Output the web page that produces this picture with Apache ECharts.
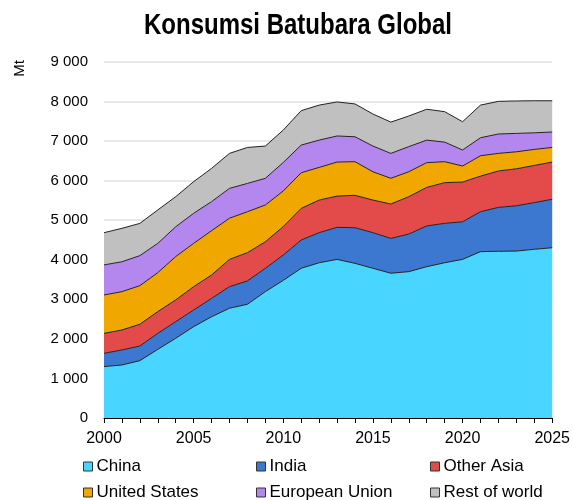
<!DOCTYPE html>
<html>
<head>
<meta charset="utf-8">
<script src="https://cdn.jsdelivr.net/npm/echarts@6/dist/echarts.min.js"></script>
<style>
  html, body { margin: 0; padding: 0; background: #fff; }
  #chart { width: 573px; height: 500px; }
</style>
</head>
<body>
<div id="chart"></div>
<script>
// data (Mt)
const years = ['2000','2001','2002','2003','2004','2005','2006','2007','2008','2009','2010','2011','2012',
  '2013','2014','2015','2016','2017','2018','2019','2020','2021','2022','2023','2024','2025'];
const china = [1300,1340,1450,1735,2015,2310,2560,2775,2875,3195,3480,3785,3925,4010,3910,3785,3660,3700,3825,3925,4010,4205,4215,4220,4265,4305];
const india = [335,380,370,405,420,420,465,545,590,590,640,715,760,810,900,900,880,950,1030,995,950,1010,1110,1145,1180,1225];
const otherAsia = [505,505,550,550,550,590,590,690,715,670,720,800,825,790,820,825,870,945,975,1030,1005,900,920,935,940,940];
const unitedStates = [970,970,975,985,1095,1095,1120,1040,1035,930,900,900,825,860,850,715,650,630,625,530,405,515,445,430,405,370];
const europeanUnion = [760,755,760,740,755,760,735,755,715,675,720,700,690,660,630,650,630,635,570,495,405,455,490,465,420,390];
const restOfWorld = [815,845,815,845,760,800,840,885,910,815,820,870,885,860,830,810,790,775,780,770,715,825,825,820,810,790];

const seriesNames = ['China', 'India', 'Other Asia', 'United States', 'European Union', 'Rest of world'];
const seriesData = [china, india, otherAsia, unitedStates, europeanUnion, restOfWorld];
const colors = ['#48D5FF', '#3C78CF', '#E34A4A', '#F0A800', '#B487EE', '#C0C0C0'];

const font = 'Liberation Sans, Arial, sans-serif';

// legend laid out as 3 columns x 2 rows
const legendPos = [[83, 458], [256, 458], [430, 458], [83, 484], [256, 484], [430, 484]];

const chart = echarts.init(document.getElementById('chart'));

chart.setOption({
  animation: false,
  color: colors,
  graphic: [
    {
      // title drawn as text so it can be squeezed like a narrow font
      type: 'text',
      x: 298,
      y: 26,
      scaleX: 0.8,
      style: {
        text: 'Konsumsi Batubara Global',
        align: 'center',
        verticalAlign: 'middle',
        fontFamily: font,
        fontWeight: 'bold',
        fontSize: 30,
        fill: '#000'
      }
    },
    {
      type: 'text',
      left: 12,
      top: 60,
      rotation: Math.PI / 2,
      style: { text: 'Mt', fontFamily: font, fontSize: 15, fill: '#000' }
    }
  ],
  grid: { left: 104, right: 20, top: 62, bottom: 82 },
  legend: seriesNames.map((name, i) => ({
    data: [name],
    left: legendPos[i][0],
    top: legendPos[i][1],
    icon: 'rect',
    itemWidth: 9,
    itemHeight: 9,
    itemGap: 4,
    padding: 0,
    itemStyle: { borderColor: '#333', borderWidth: 1 },
    textStyle: { fontFamily: font, fontSize: 17, color: '#000', padding: [0, 0, 0, -1] }
  })),
  xAxis: {
    type: 'category',
    data: years,
    boundaryGap: false,
    axisLine: { lineStyle: { color: '#000', width: 1 } },
    axisTick: { interval: 0, length: 5, lineStyle: { color: '#000' } },
    axisLabel: { interval: 4, margin: 13, fontFamily: font, fontSize: 16, color: '#000' }
  },
  yAxis: {
    type: 'value',
    min: 0,
    max: 9000,
    interval: 1000,
    axisLine: { show: false },
    axisTick: { show: false },
    splitLine: { lineStyle: { color: '#e0e0e0', width: 1.5 } },
    axisLabel: {
      margin: 16,
      fontFamily: font,
      fontSize: 15,
      color: '#000',
      formatter: v => v >= 1000 ? Math.floor(v / 1000) + ' 000' : String(v)
    }
  },
  series: seriesNames.map((name, i) => ({
    name: name,
    type: 'line',
    stack: 'total',
    data: seriesData[i],
    showSymbol: false,
    symbol: 'none',
    lineStyle: { color: '#222', width: 1 },
    areaStyle: { color: colors[i], opacity: 1 },
    itemStyle: { color: colors[i] }
  }))
});
</script>
</body>
</html>
